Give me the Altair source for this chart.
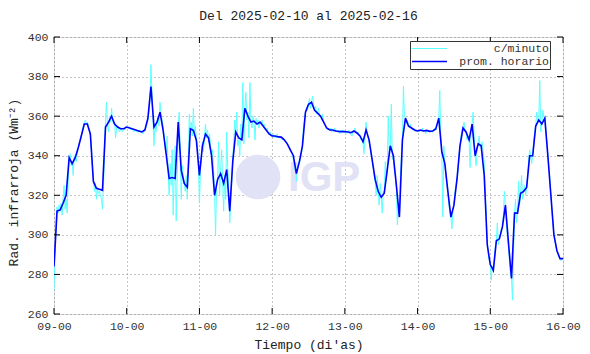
import altair as alt
import pandas as pd
import numpy as np

# ---------------- data ----------------
title_text = "Del 2025-02-10 al 2025-02-16"
series_names = ["c/minuto", "prom. horario"]
xticks = [0, 24, 48, 72, 96, 120, 144, 168]
yticks = [260, 280, 300, 320, 340, 360, 380, 400]

# hourly mean (one value per hour, from 09-00 to 16-00)
hourly = [284, 312, 312.5, 316, 320, 339, 336, 339, 344, 350,
          356, 356, 351, 327, 323.5, 323, 322.5, 354.5, 357, 360,
          356, 354.5, 353.6, 353.6, 354.5, 354, 353.5, 353, 352.5, 352,
          353, 359, 375, 354.5, 357, 362, 353, 341, 328.5, 329,
          328.5, 357, 332.6, 326, 324, 353.6, 352.8, 347.7, 330, 345,
          351, 349, 340, 320, 328, 331, 326, 333, 312, 337,
          352, 349, 348, 364, 360, 357, 357.5, 356, 357, 355,
          353, 351, 350, 350, 349.5, 349.4, 348, 346, 343, 340,
          331, 337, 345, 362, 366, 367, 363, 361.5, 360, 357,
          354, 353, 353, 352.5, 352.3, 352.2, 352.2, 352, 351.6, 352.5,
          351.5, 350, 347, 353, 348, 338, 328, 322, 319, 321,
          333, 345, 340, 325, 309, 348, 359, 355, 354, 353,
          352.5, 353, 352.5, 352.8, 352.3, 352.5, 353.5, 359, 342, 336,
          322, 309, 315, 328, 345, 354, 352, 348, 356, 340,
          346, 345, 330, 295, 285, 282, 297, 298, 304, 315,
          296, 278, 311, 311, 321, 322, 324, 340, 340, 355,
          358, 356, 359, 340, 320, 300, 292, 288, 288]

# per-minute signal, sampled every 20 minutes (3 values per hour)
day1 = [272, 290, 305, 314, 311, 315, 312, 316, 310, 318, 325, 313,
        318, 311, 326, 338, 341, 335, 337, 330, 340, 339, 337, 341,
        344, 346, 348, 350, 353, 355, 357, 358, 356, 357, 355, 353,
        350, 343, 335, 328, 322, 326, 318, 324, 321, 322, 320, 318,
        313, 325, 340, 358, 367, 355, 352, 360, 357, 364, 358, 356,
        357, 349, 354, 355, 353, 352, 354, 353, 352, 354, 353, 355]
day2 = [354, 355, 354, 354, 353, 354, 353, 352, 353, 353, 352, 352,
        352, 353, 352, 352, 351, 352, 353, 354, 356, 358, 362, 368,
        386, 372, 360, 345, 356, 352, 357, 360, 355, 367, 361, 358,
        355, 350, 346, 341, 350, 332, 320, 336, 325, 343, 310, 330,
        345, 307, 330, 356, 362, 340, 318, 335, 330, 326, 322, 330,
        318, 340, 361, 352, 357, 350, 364, 350, 355, 348, 345, 335]
day3 = [316, 332, 340, 347, 342, 350, 356, 349, 353, 347, 351, 345,
        340, 343, 333, 321, 300, 325, 328, 347, 320, 333, 343, 327,
        312, 330, 318, 352, 334, 325, 306, 315, 327, 338, 348, 358,
        352, 362, 345, 348, 340, 356, 350, 377, 346, 364, 372, 358,
        362, 349, 377, 358, 354, 360, 357, 348, 359, 356, 358, 354,
        357, 356, 358, 355, 356, 354, 353, 354, 352, 351, 352, 350]
day4 = [350, 351, 349, 350, 349, 351, 349, 350, 349, 349, 348, 349,
        348, 347, 347, 346, 345, 344, 343, 342, 341, 338, 333, 336,
        327, 334, 337, 337, 338, 341, 345, 355, 358, 362, 364, 363,
        366, 369, 364, 367, 370, 366, 363, 365, 361, 362, 364, 360,
        360, 358, 361, 357, 356, 355, 354, 353, 354, 353, 354, 352,
        353, 352, 354, 352, 353, 352, 352, 351, 353, 352, 353, 352]
day5 = [352, 351, 352, 352, 353, 351, 351, 350, 352, 352, 354, 352,
        351, 352, 350, 350, 348, 349, 346, 341, 350, 357, 352, 349,
        347, 344, 341, 338, 334, 330, 327, 320, 330, 322, 315, 326,
        319, 311, 322, 321, 337, 328, 333, 360, 340, 345, 366, 338,
        340, 332, 330, 324, 305, 315, 309, 330, 340, 348, 375, 360,
        359, 356, 358, 355, 354, 356, 354, 353, 354, 353, 352, 353]
day6 = [352, 353, 352, 353, 352, 354, 352, 353, 351, 353, 352, 353,
        352, 353, 352, 352, 353, 354, 353, 355, 357, 359, 373, 350,
        342, 309, 345, 336, 330, 326, 322, 315, 312, 309, 303, 312,
        315, 322, 325, 328, 332, 340, 345, 350, 353, 354, 357, 352,
        352, 348, 350, 348, 334, 352, 356, 362, 350, 340, 335, 343,
        346, 350, 344, 345, 347, 342, 336, 322, 310, 298, 290, 287]
day7 = [286, 277, 284, 282, 288, 294, 297, 306, 295, 298, 300, 303,
        304, 310, 322, 315, 305, 299, 294, 287, 280, 278, 267, 290,
        311, 318, 306, 311, 327, 315, 321, 330, 318, 322, 325, 320,
        324, 330, 338, 343, 340, 336, 340, 348, 352, 355, 362, 357,
        358, 378, 352, 356, 363, 360, 359, 352, 348, 340, 335, 328,
        320, 312, 306, 300, 297, 295, 292, 290, 289, 288, 287, 288,
        288]
minute = day1 + day2 + day3 + day4 + day5 + day6 + day7

df_c = pd.DataFrame({"h": np.arange(len(minute)) / 3.0, "v": minute, "serie": series_names[0]})
df_b = pd.DataFrame({"h": np.arange(len(hourly)) * 1.0, "v": hourly, "serie": series_names[1]})
df = pd.concat([df_c, df_b], ignore_index=True)

FONT = "Liberation Mono"
W, H = 509, 277

xscale = alt.Scale(domain=[0, 168], nice=False, zero=False)
yscale = alt.Scale(domain=[260, 400], nice=False, zero=False)

x_axis = alt.Axis(
    values=xticks,
    labelExpr="(datum.value/24+9 < 10 ? '0' : '') + (datum.value/24+9) + '-00'",
    title="Tiempo (di'as)",
    grid=True, gridDash=[1, 3], gridColor="#8a8a8a", gridWidth=1,
    tickSize=0, domain=False, labelPadding=6, titlePadding=7,
    labelFlush=False, labelOverlap=False,
    labelFont=FONT, labelFontSize=11.5, labelColor="#333",
    titleFont=FONT, titleFontSize=13, titleFontWeight="normal", titleColor="#222",
)
y_axis = alt.Axis(
    values=yticks,
    title="Rad. infrarroja (Wm⁻²)",
    grid=True, gridDash=[1, 3], gridColor="#8a8a8a", gridWidth=1,
    tickSize=0, domain=False, labelPadding=6,
    labelFlush=False, labelOverlap=False,
    labelFont=FONT, labelFontSize=11.5, labelColor="#333",
    titleFont=FONT, titleFontSize=13, titleFontWeight="normal", titleColor="#222",
    titleX=-41, titleY=145, titleAlign="center", titleBaseline="middle", titleAngle=270,
)

X = alt.X("h:Q", scale=xscale, axis=x_axis)
Y = alt.Y("v:Q", scale=yscale, axis=y_axis)

# watermark (IGP logo, pale)
wm_df = pd.DataFrame({"t": ["IGP"]})
wm_circle = alt.Chart(wm_df).mark_point(filled=True, shape="circle", size=2000,
                                        color="#e2e2f6", opacity=1).encode(
    x=alt.value(204), y=alt.value(140))
wm_text = alt.Chart(wm_df).mark_text(font="Liberation Sans", fontWeight="bold", fontSize=42,
                                     color="#e2e2f6", align="left", baseline="middle").encode(
    x=alt.value(234), y=alt.value(141), text="t:N")

lines = alt.Chart(df).mark_line(clip=True).encode(
    x=X, y=Y,
    color=alt.Color("serie:N",
                    scale=alt.Scale(domain=series_names, range=["#5cffff", "#0000ff"]),
                    legend=alt.Legend(
                        title=None, orient="none", legendX=356, legendY=4,
                        symbolType="stroke", symbolSize=1225, symbolStrokeWidth=1.5,
                        clipHeight=13,
                        labelFont=FONT, labelFontSize=11.5, labelColor="#333",
                        labelAlign="right", labelOffset=101,
                        strokeColor="#333", fillColor="white", padding=1, rowPadding=0)),
    strokeWidth=alt.StrokeWidth("serie:N",
                                scale=alt.Scale(domain=series_names, range=[1, 1.6]),
                                legend=None),
)

xt_df = pd.DataFrame({"h": xticks})
yt_df = pd.DataFrame({"v": yticks})
tick_top = alt.Chart(xt_df).mark_rule(color="black", strokeWidth=1).encode(
    x=X, y=alt.value(0), y2=alt.value(6))
tick_bot = alt.Chart(xt_df).mark_rule(color="black", strokeWidth=1).encode(
    x=X, y=alt.value(H), y2=alt.value(H - 6))
tick_left = alt.Chart(yt_df).mark_rule(color="black", strokeWidth=1).encode(
    y=Y, x=alt.value(0), x2=alt.value(6))
tick_right = alt.Chart(yt_df).mark_rule(color="black", strokeWidth=1).encode(
    y=Y, x=alt.value(W), x2=alt.value(W - 6))

chart = alt.layer(wm_circle, wm_text, lines, tick_top, tick_bot, tick_left, tick_right).properties(
    width=W, height=H,
    title=alt.TitleParams(title_text, font=FONT, fontSize=13, fontWeight="normal",
                          color="#222", anchor="middle", frame="group", offset=8),
    autosize=alt.AutoSizeParams(type="none"),
    padding={"left": 54, "top": 37, "right": 27, "bottom": 40},
).configure_view(stroke="black", strokeWidth=2).configure(background="white")

chart.save("out.html", embed_options={"renderer": "svg", "actions": False})
